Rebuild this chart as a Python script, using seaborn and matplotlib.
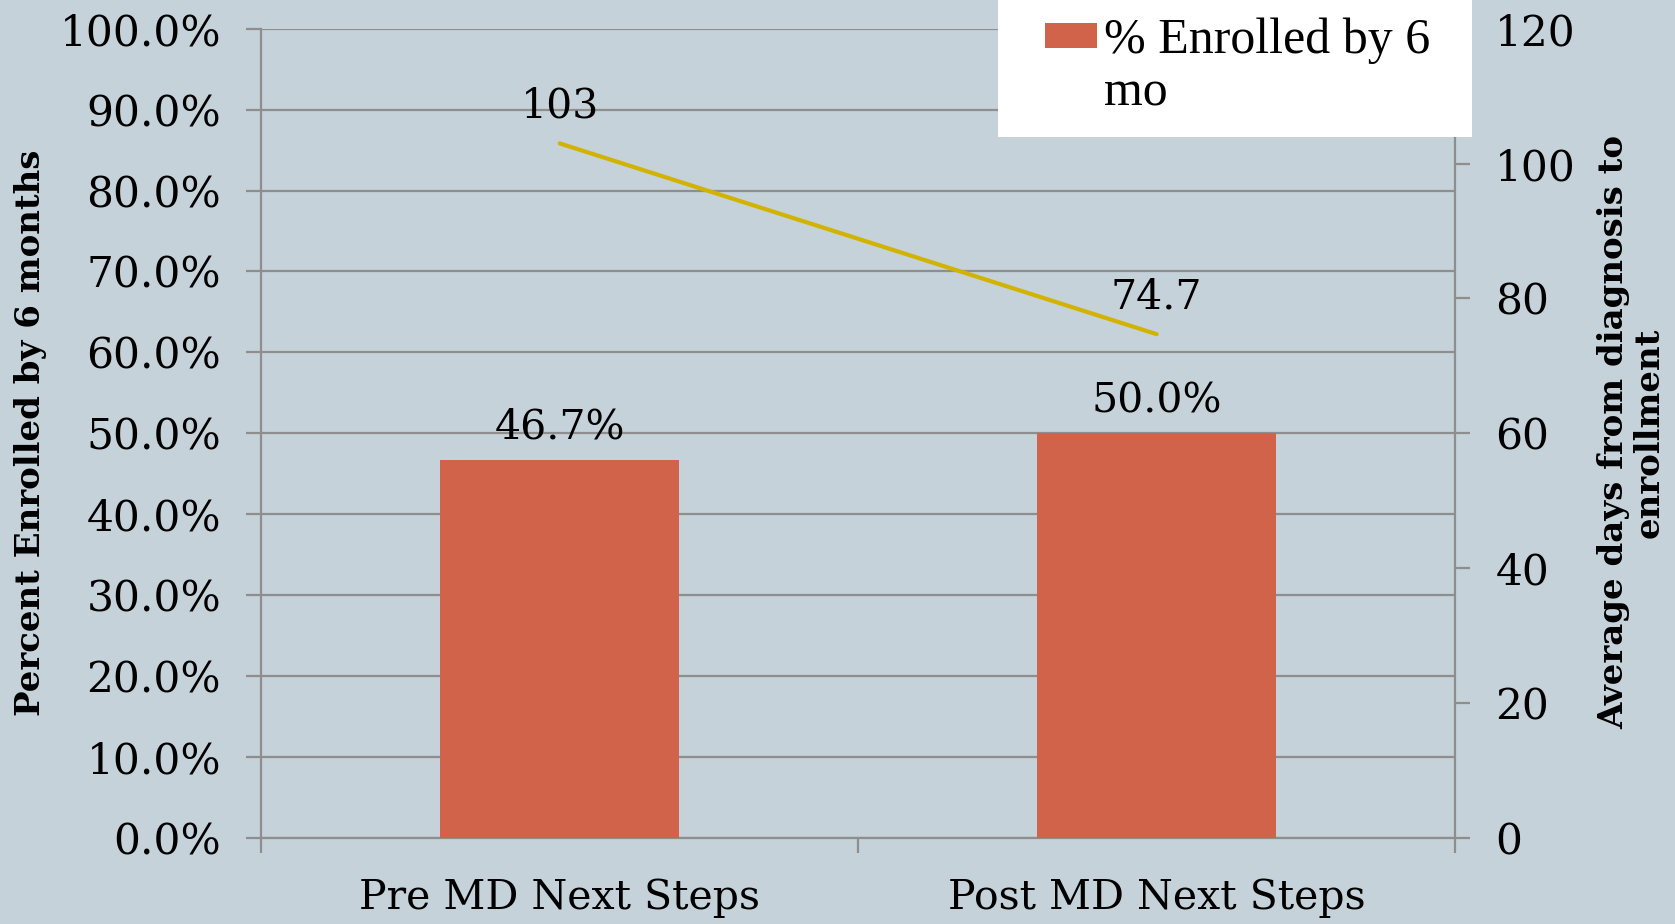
import numpy as np
import pandas as pd
import matplotlib
matplotlib.use('Agg')
import matplotlib.pyplot as plt
import seaborn as sns
from matplotlib.patches import Rectangle
from matplotlib.ticker import FixedLocator, PercentFormatter

# 数据
categories = ['Pre MD Next Steps', 'Post MD Next Steps']
pct_enrolled = [46.7, 50.0]
avg_days = [103, 74.7]
pct_labels = ['46.7%', '50.0%']
day_labels = ['103', '74.7']
legend_label = '% Enrolled by 6\nmo'

BG = '#C6D2D9'
BAR = '#D1634A'
LINE = '#D2B300'
GRID = '#8E8E8E'

sns.set_theme(style='white')
plt.rcParams['font.family'] = ['DejaVu Serif']
plt.rcParams['text.color'] = 'black'

df = pd.DataFrame({'cat': categories, 'pct': pct_enrolled, 'days': avg_days})

fig = plt.figure(figsize=(16.75, 9.24), dpi=100, facecolor=BG)
ax = fig.add_axes([0.156, 0.0934, 0.7127, 0.8754])
ax.set_facecolor(BG)

sns.barplot(data=df, x='cat', y='pct', color=BAR, width=0.4, saturation=1,
            ax=ax, edgecolor='none', linewidth=0, zorder=3)
ax.set_xlim(-0.5, 1.5)
ax.set_ylim(0, 100)
ax.yaxis.set_major_locator(FixedLocator(np.arange(0, 101, 10)))
ax.yaxis.set_major_formatter(PercentFormatter(decimals=1))
ax.grid(axis='y', color=GRID, linewidth=1.6, zorder=0)
ax.set_axisbelow(True)

for i, (v, lab) in enumerate(zip(pct_enrolled, pct_labels)):
    ax.text(i, v + 1.5, lab, ha='center', va='bottom', fontsize=29.5)

# 右轴 - 平均天数
ax2 = ax.twinx()
sns.lineplot(x=[0, 1], y=avg_days, ax=ax2, color=LINE, linewidth=3, zorder=4)
ax2.set_ylim(0, 120)
ax2.set_xlim(-0.5, 1.5)
ax2.yaxis.set_major_locator(FixedLocator(np.arange(0, 121, 20)))
for i, (v, lab) in enumerate(zip(avg_days, day_labels)):
    ax2.text(i, v + 2.5, lab, ha='center', va='bottom', fontsize=29.5)

# 刻度和边框
for a in (ax, ax2):
    for s in a.spines.values():
        s.set_visible(False)
ax.spines['left'].set_visible(True)
ax.spines['bottom'].set_visible(True)
ax2.spines['right'].set_visible(True)
for s in (ax.spines['left'], ax.spines['bottom'], ax2.spines['right']):
    s.set_color(GRID)
    s.set_linewidth(1.6)

ax.tick_params(axis='y', which='major', direction='out', length=11, width=1.6,
               color=GRID, labelcolor='black', labelsize=30.5, pad=18, left=True)
ax2.tick_params(axis='y', which='major', direction='out', length=11, width=1.6,
                color=GRID, labelcolor='black', labelsize=30.5, pad=18, right=True)
ax.xaxis.set_major_locator(FixedLocator([0, 1]))
ax.xaxis.set_minor_locator(FixedLocator([-0.5, 0.5, 1.5]))
ax.tick_params(axis='x', which='major', length=0, labelsize=29.5,
               labelcolor='black', pad=29)
ax.tick_params(axis='x', which='minor', direction='out', length=11, width=1.6,
               color=GRID, bottom=True)
ax.set_xlabel('')
ax.set_ylabel('')
ax2.set_ylabel('')

fig.text(0.0185, 0.532, 'Percent Enrolled by 6 months', rotation=90,
         ha='center', va='center', fontsize=24.5, fontweight='bold')
fig.text(0.974, 0.532, 'Average days from diagnosis to\nenrollment', rotation=90,
         ha='center', va='center', fontsize=24.5, fontweight='bold',
         linespacing=1.12, multialignment='center')

# 图例 (手工绘制)
fig.patches.append(Rectangle((0.596, 0.852), 0.283, 0.16, transform=fig.transFigure,
                             facecolor='white', edgecolor='none', zorder=5))
fig.patches.append(Rectangle((0.6237, 0.948), 0.031, 0.0266, transform=fig.transFigure,
                             facecolor=BAR, edgecolor='none', zorder=6))
fig.text(0.659, 0.981, legend_label, ha='left', va='top', fontsize=36,
         family='Liberation Serif', linespacing=1.18, zorder=7)

fig.savefig('out.png', dpi=100, facecolor=BG)
